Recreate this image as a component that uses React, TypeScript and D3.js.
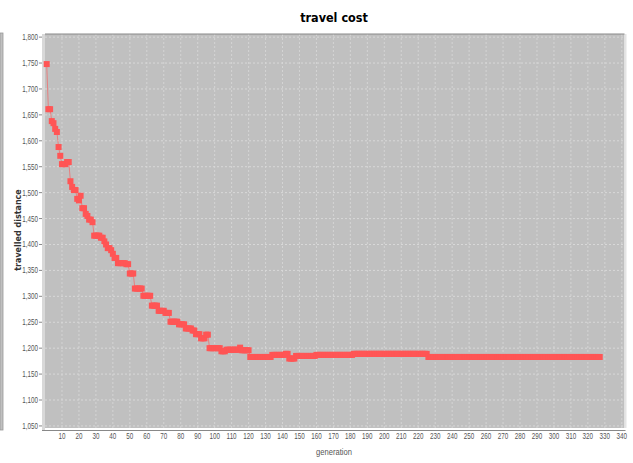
import * as d3 from "d3";

// generation at which the best distance changed, and the new value
const changeGen = [
  1, 2, 4, 5, 6, 7, 8, 9, 10, 13, 15, 16, 17, 19, 20, 21, 22, 24, 25, 26, 28, 29,
  33, 35, 36, 37, 39, 40, 41, 43, 48, 50, 53, 58, 63, 67, 71, 74, 79, 83, 87, 89,
  92, 95, 97, 104, 107, 115, 116, 121, 134, 142, 144, 148, 160, 182, 226,
];
const changeValue = [
  1748, 1661, 1638, 1634, 1623, 1617, 1588, 1571, 1555, 1559, 1522, 1511, 1505,
  1488, 1485, 1494, 1470, 1459, 1455, 1448, 1443, 1417, 1413, 1406, 1400, 1393,
  1389, 1382, 1374, 1364, 1362, 1344, 1315, 1301, 1282, 1272, 1268, 1251, 1246,
  1238, 1234, 1227, 1219, 1226, 1200, 1194, 1197, 1201, 1196, 1183, 1187, 1189,
  1180, 1185, 1187, 1189, 1183,
];
const lastGen = 327;

const yTicks = [1050, 1100, 1150, 1200, 1250, 1300, 1350, 1400, 1450, 1500, 1550, 1600, 1650, 1700, 1750, 1800];
const xTicks = [10, 20, 30, 40, 50, 60, 70, 80, 90, 100, 110, 120, 130, 140, 150, 160, 170, 180, 190, 200, 210, 220, 230, 240, 250, 260, 270, 280, 290, 300, 310, 320, 330, 340];

const title = "travel cost";
const xLabel = "generation";
const yLabel = "travelled distance";

// one point per generation, holding the value until the next change
const points: { gen: number; value: number }[] = [];
changeGen.forEach((g, i) => {
  const end = i < changeGen.length - 1 ? changeGen[i + 1] - 1 : lastGen;
  for (let k = g; k <= end; k++) points.push({ gen: k, value: changeValue[i] });
});

const tickFont = "'Liberation Sans', Arial, sans-serif";
const squeeze = 0.74; // the tick labels are drawn in a narrow face

export default function App() {
  const left = 45,
    right = 624.5,
    top = 34,
    bottom = 428;
  const x = d3.scaleLinear().domain([0, 341.6]).range([left, right]);
  const y = d3.scaleLinear().domain([1046, 1806]).range([bottom, top]);
  const fmt = d3.format(",");

  const line = d3
    .line<{ gen: number; value: number }>()
    .x((d) => x(d.gen))
    .y((d) => y(d.value));

  return (
    <div>
      <style>{"body{margin:0}"}</style>
      <svg width={633} height={463} style={{ display: "block", background: "#fff" }}>
        {/* neighbouring panel strip */}
        <rect x={0} y={33} width={3} height={397} fill="#c0c0c0" stroke="#9a9a9a" strokeWidth={0.8} />

        <text x={334} y={22} textAnchor="middle" fontFamily="'DejaVu Sans Condensed', sans-serif" fontWeight="bold" fontSize={12.5} fill="#000">
          {title}
        </text>

        {/* plot area */}
        <rect x={left} y={top} width={right - left} height={bottom - top} fill="#c0c0c0" />
        <rect x={42} y={top} width={3} height={bottom - top + 2} fill="#d8d8d8" />
        <rect x={right} y={top} width={2} height={bottom - top} fill="#e4e4e4" />

        {xTicks.map((t) => (
          <line key={"gx" + t} x1={x(t)} x2={x(t)} y1={top} y2={bottom} stroke="#d4d4d4" strokeDasharray="2,2" strokeWidth={1} />
        ))}
        {yTicks.map((t) => (
          <line key={"gy" + t} x1={left} x2={right} y1={y(t)} y2={y(t)} stroke="#d8d8d8" strokeDasharray="2,2" strokeWidth={1} />
        ))}

        <line x1={left} x2={right} y1={top} y2={top} stroke="#888" strokeWidth={1} />
        <line x1={left - 3} x2={right + 1} y1={430.5} y2={430.5} stroke="#888" strokeWidth={1} />

        {/* y axis */}
        {yTicks.map((t) => (
          <g key={"ty" + t}>
            <line x1={39} x2={42} y1={y(t)} y2={y(t)} stroke="#888" />
            <text
              transform={`translate(38,${y(t) + 3}) scale(${squeeze},1)`}
              textAnchor="end"
              fontFamily={tickFont}
              fontSize={8.5}
              fill="#555"
            >
              {fmt(t)}
            </text>
          </g>
        ))}

        {/* x axis */}
        {xTicks.map((t) => (
          <text
            key={"tx" + t}
            transform={`translate(${x(t)},439) scale(${squeeze},1)`}
            textAnchor="middle"
            fontFamily={tickFont}
            fontSize={8.5}
            fill="#555"
          >
            {t}
          </text>
        ))}

        <text transform={`translate(334,455) scale(0.8,1)`} textAnchor="middle" fontFamily={tickFont} fontSize={9.5} fill="#555">
          {xLabel}
        </text>
        <text
          transform="translate(21,230) rotate(-90)"
          textAnchor="middle"
          fontFamily="'DejaVu Sans', sans-serif"
          fontWeight="bold"
          fontSize={8}
          fill="#333"
        >
          {yLabel}
        </text>

        {/* series */}
        <path d={line(points) ?? ""} fill="none" stroke="#ff5555" strokeOpacity={0.6} strokeWidth={1} />
        {points.map((p) => (
          <rect key={p.gen} x={x(p.gen) - 3} y={y(p.value) - 3} width={6} height={6} fill="#ff5555" />
        ))}
      </svg>
    </div>
  );
}
